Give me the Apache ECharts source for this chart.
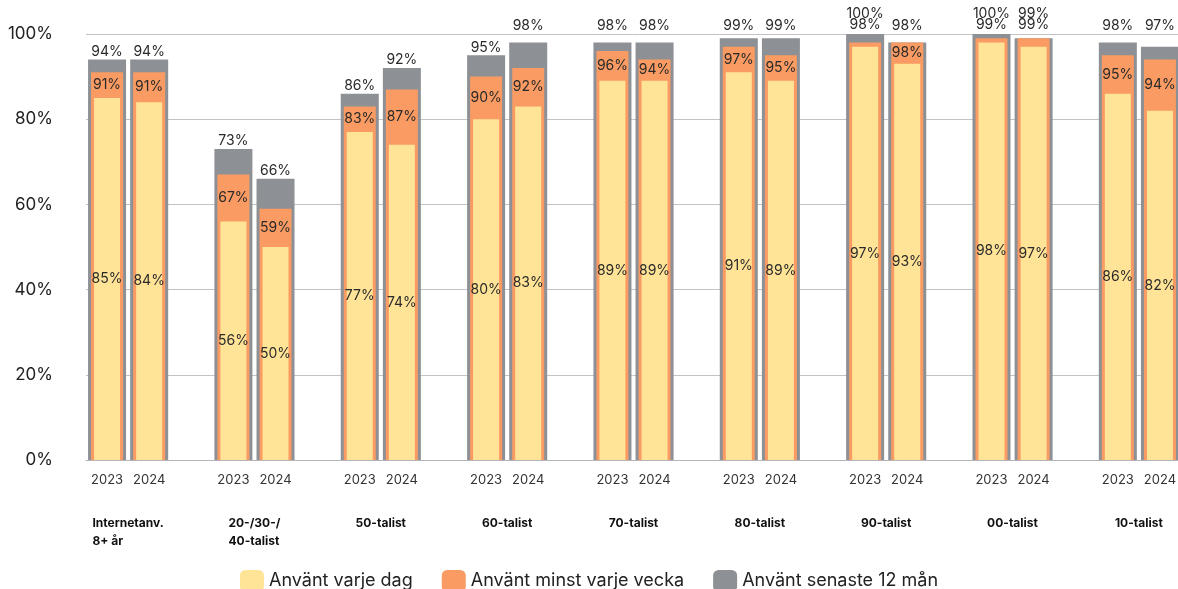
<!DOCTYPE html>
<html><head><meta charset="utf-8">
<script src="https://cdn.jsdelivr.net/npm/echarts@6/dist/echarts.min.js"></script>
<style>html,body{margin:0;padding:0;background:#fff}#c{width:1178px;height:589px}</style>
</head><body><div id="c"></div>
<script>
const groups = ['Internetanv.\n8+ år','20-/30-/\n40-talist','50-talist','60-talist','70-talist','80-talist','90-talist','00-talist','10-talist'];
const years = ['2023','2024'];
const seriesNames = ['Använt varje dag','Använt minst varje vecka','Använt senaste 12 mån'];
const daily2023  = [85,56,77,80,89,91,97,98,86];
const daily2024  = [84,50,74,83,89,89,93,97,82];
const weekly2023 = [91,67,83,90,96,97,98,99,95];
const weekly2024 = [91,59,87,92,94,95,98,99,94];
const yearly2023 = [94,73,86,95,98,99,100,100,98];
const yearly2024 = [94,66,92,98,98,99,98,99,97];
const yMin = 0, yMax = 100, yStep = 20;

const FONT = 'Inter, Roboto, sans-serif';
const COLORS = {daily:'#FFE497', weekly:'#F99B62', yearly:'#8D9095'};
const GRID = {left:86, right:-3, top:34, bottom:129};
const H = 589;
const pxPer = (H - GRID.top - GRID.bottom) / (yMax - yMin);

const dailyBy = [daily2023, daily2024];
const weeklyBy = [weekly2023, weekly2024];
const yearlyBy = [yearly2023, yearly2024];

const slotCats = [], slotIdx = [];
groups.forEach((gname, gi) => {
  years.forEach((yr, yi) => { slotCats.push(yr); slotIdx.push([gi, yi]); });
  if (gi < groups.length - 1) { slotCats.push(''); slotIdx.push(null); }
});

function vals(s){ const [gi, yi] = s; return {d: dailyBy[yi][gi], o: weeklyBy[yi][gi], g: yearlyBy[yi][gi]}; }

const grayData = slotIdx.map(s => {
  if (!s) return '-';
  const {d, o, g} = vals(s);
  let dy = g >= 96 ? -(100 - g) * pxPer : 0;
  if (o - d < 3) dy -= 12;
  return {value: g, label: {offset: [0, dy]}};
});
const orangeData = slotIdx.map(s => {
  if (!s) return '-';
  const {d, o} = vals(s);
  if (o - d < 3) return {value: o, label: {position: 'top', distance: 2, verticalAlign: 'bottom', offset: [0, -(100 - o) * pxPer]}};
  return {value: o, label: {position: 'insideTop', distance: 0, verticalAlign: 'middle', offset: [0, (o - d) / 2 * pxPer]}};
});
const yellowData = slotIdx.map(s => s ? vals(s).d : '-');

const lbl = {show: true, formatter: p => p.value + '%', fontSize: 14, color: '#2a2a2a', fontFamily: FONT};

const chart = echarts.init(document.getElementById('c'), null, {renderer: 'canvas'});
chart.setOption({
  backgroundColor: '#fff',
  animation: false,
  grid: Object.assign({outerBoundsMode: 'none', containLabel: false}, GRID),
  legend: {
    data: seriesNames, top: 565, left: 'center', icon: 'roundRect',
    itemWidth: 24, itemHeight: 22, itemGap: 29,
    textStyle: {fontSize: 18, color: '#222', fontFamily: FONT}
  },
  xAxis: [
    {type: 'category', data: slotCats, position: 'bottom', boundaryGap: true,
     axisLine: {show: true, lineStyle: {color: '#b4b4b8', width: 1}},
     axisTick: {show: false},
     axisLabel: {interval: 0, margin: 14, fontSize: 13, color: '#333', fontFamily: FONT}},
    {type: 'category', data: slotCats, position: 'bottom', show: false},
    {type: 'category', data: slotCats, position: 'bottom', show: false},
    {type: 'value', position: 'bottom', min: 0, max: slotCats.length, interval: 1,
     axisLine: {show: false}, axisTick: {show: false}, splitLine: {show: false},
     axisLabel: {margin: 54, color: '#111', fontFamily: FONT,
       formatter: v => { v = Math.round(v); if ((v - 1) % 3 !== 0) return ''; const gi = (v - 1) / 3; if (gi >= groups.length) return ''; return groups[gi].split('\n').map(l => '{g|' + l + '}').join('\n'); },
       rich: {g: {align: 'left', fontWeight: 'bold', fontSize: 12, lineHeight: 18, color: '#111', fontFamily: FONT}}}}
  ],
  yAxis: {type: 'value', min: yMin, max: yMax, interval: yStep,
    axisLine: {show: false}, axisTick: {show: false},
    splitLine: {lineStyle: {color: '#c3c3c7', width: 1}},
    axisLabel: {formatter: '{value}%', margin: 33, fontSize: 17, color: '#222', fontFamily: FONT}},
  series: [
    {name: seriesNames[2], type: 'bar', xAxisIndex: 0, barWidth: 38, data: grayData,
     itemStyle: {color: COLORS.yearly}, label: Object.assign({}, lbl, {position: 'top', distance: 1})},
    {name: seriesNames[1], type: 'bar', xAxisIndex: 1, barWidth: 32, data: orangeData,
     itemStyle: {color: COLORS.weekly}, label: Object.assign({}, lbl)},
    {name: seriesNames[0], type: 'bar', xAxisIndex: 2, barWidth: 26, data: yellowData,
     itemStyle: {color: COLORS.daily}, label: Object.assign({}, lbl, {position: 'inside'})}
  ]
});
</script></body></html>
